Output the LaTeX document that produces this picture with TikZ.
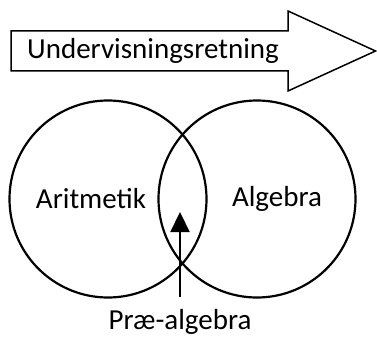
\documentclass[tikz,border=0pt]{standalone}
\usepackage{fontspec}
\setmainfont{Carlito}
\usetikzlibrary{arrows.meta}
\begin{document}
\begin{tikzpicture}[x=1pt,y=-1pt,
  lbl/.style={font=\fontsize{29}{34}\selectfont, inner sep=0pt},
  ring/.style={draw, circle, line width=2.2pt, minimum size=197pt, inner sep=0pt},
  bigarrow/.style={draw, line width=1.5pt, fill=white}]
\useasboundingbox (0,0) rectangle (377,342);
\draw[bigarrow] (11,31) -- (288,31) -- (288,11) -- (375.5,51) -- (288,91) -- (288,71) -- (11,71) -- cycle;
\node[lbl] (dir) at (153,51) {Undervisningsretning};
\node[ring] (ar) at (108,199) {};
\node[ring] (al) at (257,199) {};
\node[lbl] (arit) at (91,199) {Aritmetik};
\node[lbl] (alg) at (277,199) {Algebra};
\node[lbl] (pre) at (180,322) {Præ-algebra};
\coordinate (tip) at (180,212);
\coordinate (base) at (180,297);
\draw[line width=2.2pt, -{Triangle[length=20pt,width=19pt]}] (base) -- (tip);
\end{tikzpicture}
\end{document}
